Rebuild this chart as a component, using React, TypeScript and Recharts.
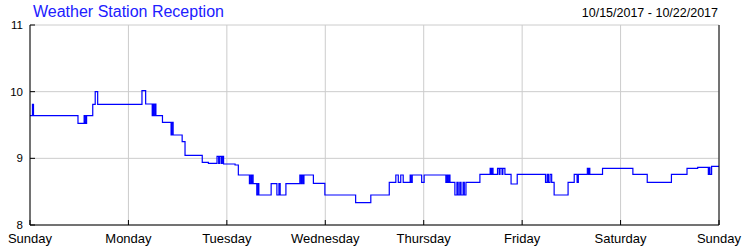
import React from 'react';
import { LineChart, Line, XAxis, YAxis, CartesianGrid } from 'recharts';

// hours since Sunday 00:00 and the signal level read at that time (step after)
const hours = [
  0, 0.6, 0.85, 11.7, 13.2, 13.5, 13.8, 15.3, 15.9, 16.5, 27.3, 28.2, 29.8, 30.0, 30.2, 30.5, 30.7,
  32.3, 34.4, 34.6, 34.9, 37.1, 37.8, 42.0, 43.5, 45.6, 46.0, 46.3, 46.7, 46.9, 47.2, 50.0, 50.8,
  53.5, 53.8, 54.0, 54.3, 54.4, 55.3, 55.6, 55.8, 58.8, 60.2, 60.7, 61.0, 62.4, 65.8, 66.1, 66.3,
  66.6, 66.8, 69.1, 71.9, 79.4, 83.1, 87.6, 89.2, 89.8, 90.4, 91.0, 92.7, 92.9, 93.2, 95.5, 96.1,
  101.4, 101.7, 101.9, 102.2, 102.4, 103.6, 104.1, 104.4, 104.8, 105.1, 105.6, 105.9, 106.3, 109.7,
  112.2, 112.4, 112.6, 112.9, 114.0, 114.4, 114.6, 115.1, 115.3, 115.8, 117.3, 118.8, 125.7, 126.1,
  126.4, 126.8, 127.2, 127.8, 131.2, 132.7, 133.4, 133.7, 135.9, 136.2, 136.4, 136.5, 139.6, 147.0,
  150.5, 156.4, 160.2, 162.8, 165.4, 165.6, 165.8, 166.2, 168,
];
const signal = [
  9.64, 9.81, 9.64, 9.525, 9.64, 9.525, 9.64, 9.81, 10.0, 9.81, 10.015, 9.815, 9.64, 9.815, 9.64, 9.815, 9.64,
  9.54, 9.35, 9.54, 9.35, 9.25, 9.045, 8.94, 8.925, 9.03, 8.925, 9.03, 8.925, 9.03, 8.915, 8.9, 8.75,
  8.62, 8.75, 8.62, 8.75, 8.62, 8.45, 8.62, 8.45, 8.62, 8.45, 8.62, 8.45, 8.62, 8.75, 8.62, 8.75,
  8.62, 8.75, 8.625, 8.45, 8.335, 8.45, 8.64, 8.75, 8.64, 8.75, 8.64, 8.75, 8.64, 8.75, 8.64, 8.75,
  8.64, 8.75, 8.64, 8.75, 8.64, 8.45, 8.64, 8.45, 8.64, 8.45, 8.64, 8.45, 8.64, 8.76,
  8.85, 8.76, 8.85, 8.76, 8.85, 8.76, 8.85, 8.76, 8.85, 8.76, 8.615, 8.76, 8.64, 8.76,
  8.64, 8.76, 8.64, 8.45, 8.64, 8.76, 8.64, 8.76, 8.85, 8.76, 8.85, 8.76, 8.85, 8.76,
  8.64, 8.76, 8.85, 8.865, 8.76, 8.865, 8.76, 8.88, 8.88,
];
const dayTicks = [0, 24, 48, 72, 96, 120, 144, 168];
const dayLabels = ['Sunday', 'Monday', 'Tuesday', 'Wednesday', 'Thursday', 'Friday', 'Saturday', 'Sunday'];
const levelTicks = [8, 9, 10, 11];

const title = 'Weather Station Reception';
const dateRange = '10/15/2017 - 10/22/2017';

const data = hours.map((h, i) => ({ h, v: signal[i] }));

const FONT = '"Liberation Sans", Arial, sans-serif';
const TICK_LEN = 5;
const Y_MARGIN = 7;
const X_MARGIN = 9;

// ticks are drawn pointing into the plot, labels outside
function LeftTick(props: any) {
  const { x, y, payload } = props;
  const ax = x + Y_MARGIN;
  return (
    <g>
      <line x1={ax} x2={ax + TICK_LEN} y1={y} y2={y} stroke="#000" />
      <text x={x} y={y} dy="0.355em" textAnchor="end" fontSize={11.5} fill="#000" fontFamily={FONT}>
        {payload.value}
      </text>
    </g>
  );
}

function RightTick(props: any) {
  const { x, y, payload } = props;
  const ax = x - Y_MARGIN - 1;
  return (
    <g>
      <line x1={ax} x2={ax - TICK_LEN} y1={y} y2={y} stroke="#000" />
      <text x={x} y={y} dy="0.355em" textAnchor="start" fontSize={11.5} fill="#000" fontFamily={FONT}>
        {payload.value}
      </text>
    </g>
  );
}

function BottomTick(props: any) {
  const { x, y, payload, index } = props;
  const ay = y - X_MARGIN;
  return (
    <g>
      <line x1={x} x2={x} y1={ay} y2={ay - TICK_LEN} stroke="#000" />
      <text x={x} y={y} dy="0.71em" textAnchor="middle" fontSize={13} fill="#000" fontFamily={FONT}>
        {dayLabels[index] ?? payload.value}
      </text>
    </g>
  );
}

function TopTick(props: any) {
  const { x, y } = props;
  return <line x1={x} x2={x} y1={y} y2={y + TICK_LEN} stroke="#000" />;
}

export default function App() {
  return (
    <div style={{ position: 'absolute', left: 0, top: 0, width: 750, height: 250, background: '#fff' }}>
      <div
        style={{
          position: 'absolute', left: 33, top: 4, fontFamily: FONT, fontSize: 16, lineHeight: '16px',
          color: '#2020ff', whiteSpace: 'nowrap',
        }}
      >
        {title}
      </div>
      <div
        style={{
          position: 'absolute', right: 32, top: 6, fontFamily: FONT, fontSize: 12.5, lineHeight: '14px',
          color: '#000', whiteSpace: 'nowrap',
        }}
      >
        {dateRange}
      </div>
      <LineChart width={750} height={250} data={data} margin={{ top: 25, right: 0, bottom: 0, left: 0 }}>
        <CartesianGrid stroke="#cccccc" yAxisId="left" />
        <XAxis
          dataKey="h"
          type="number"
          domain={[0, 168]}
          ticks={dayTicks}
          height={25}
          tickSize={0}
          tickMargin={X_MARGIN}
          tick={<BottomTick />}
          axisLine={{ stroke: '#000' }}
          interval={0}
        />
        <XAxis
          xAxisId="top"
          orientation="top"
          dataKey="h"
          type="number"
          domain={[0, 168]}
          ticks={dayTicks}
          height={0}
          tickSize={0}
          tickMargin={0}
          tick={<TopTick />}
          axisLine={{ stroke: '#000' }}
          interval={0}
        />
        <YAxis
          yAxisId="left"
          type="number"
          domain={[8, 11]}
          ticks={levelTicks}
          width={30}
          tickSize={0}
          tickMargin={Y_MARGIN}
          tick={<LeftTick />}
          axisLine={{ stroke: '#000' }}
          interval={0}
        />
        <YAxis
          yAxisId="right"
          orientation="right"
          type="number"
          domain={[8, 11]}
          ticks={levelTicks}
          width={31}
          tickSize={0}
          tickMargin={Y_MARGIN + 1}
          tick={<RightTick />}
          axisLine={{ stroke: '#000' }}
          interval={0}
        />
        <Line
          yAxisId="left"
          type="stepAfter"
          dataKey="v"
          stroke="#0000ff"
          strokeWidth={1.2}
          dot={false}
          activeDot={false}
          isAnimationActive={false}
        />
      </LineChart>
    </div>
  );
}
